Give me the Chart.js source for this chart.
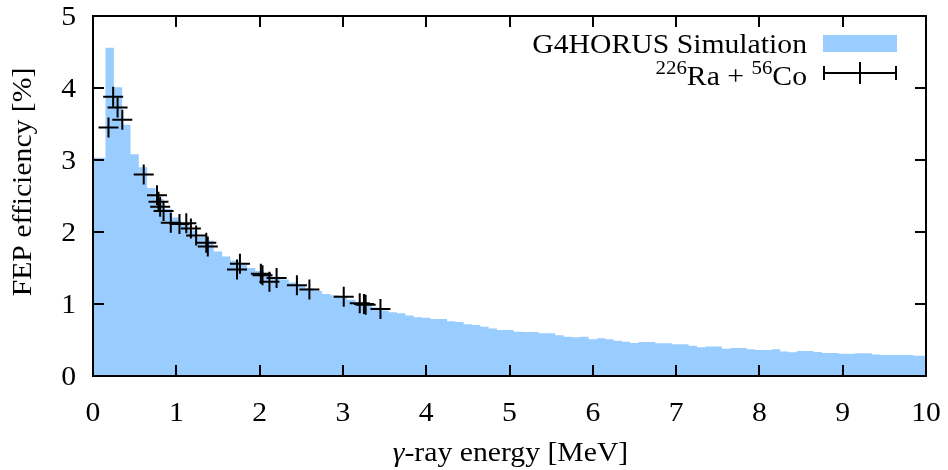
<!DOCTYPE html>
<html>
<head>
<meta charset="utf-8">
<script src="https://cdn.jsdelivr.net/npm/chart.js@4/dist/chart.umd.min.js"></script>
<style>
html,body{margin:0;padding:0;background:#fff;}
#wrap{width:948px;height:470px;position:relative;}
</style>
</head>
<body>
<div id="wrap"><canvas id="c" width="948" height="470"></canvas></div>
<script>
// ---- Data ----
const binWidth = 0.1; // MeV, simulation histogram bin width
// simulated FEP efficiency [%] per bin, bins centred at 0.0, 0.1, ... 10.0 MeV
const simEfficiency = [
  3.03, 3.03, 4.56, 4.01, 3.49, 3.08, 2.90, 2.61, 2.46, 2.32,
  2.20, 2.12, 2.02, 1.93, 1.88, 1.73, 1.66, 1.60, 1.55, 1.50,
  1.46, 1.42, 1.38, 1.34, 1.30, 1.26, 1.22, 1.18, 1.14, 1.12,
  1.10, 1.06, 1.02, 0.99, 0.95, 0.91, 0.885, 0.87, 0.84, 0.815,
  0.81, 0.79, 0.79, 0.76, 0.75, 0.72, 0.71, 0.685, 0.66, 0.64,
  0.64, 0.615, 0.61, 0.61, 0.593, 0.593, 0.565, 0.546, 0.537, 0.546,
  0.51, 0.523, 0.51, 0.49, 0.476, 0.46, 0.472, 0.472, 0.454, 0.454,
  0.44, 0.44, 0.42, 0.40, 0.41, 0.41, 0.38, 0.39, 0.39, 0.37,
  0.36, 0.36, 0.37, 0.34, 0.33, 0.347, 0.347, 0.333, 0.32, 0.32,
  0.31, 0.31, 0.315, 0.315, 0.30, 0.29, 0.29, 0.29, 0.29, 0.28,
  0.28
];
// measured 226Ra + 56Co points
const measEnergy = [0.186, 0.242, 0.295, 0.352, 0.609, 0.768, 0.786, 0.806, 0.847, 0.934,
  1.038, 1.120, 1.175, 1.238, 1.360, 1.378, 1.729, 1.764, 2.015, 2.035,
  2.118, 2.204, 2.448, 2.598, 3.010, 3.202, 3.253, 3.273, 3.451];
const measEfficiency = [3.45, 3.88, 3.73, 3.56, 2.80, 2.51, 2.42, 2.35, 2.29, 2.13,
  2.11, 2.12, 2.05, 1.95, 1.85, 1.80, 1.48, 1.56, 1.42, 1.40,
  1.31, 1.36, 1.26, 1.20, 1.10, 1.01, 1.00, 0.99, 0.93];
const xTicks = [0,1,2,3,4,5,6,7,8,9,10];
const yTicks = [0,1,2,3,4,5];
const xTitle = ['\u03B3', '-ray energy [MeV]'];
const yTitle = 'FEP efficiency [%]';
const legendSim = 'G4HORUS Simulation';

// ---- Style ----
const FONT = '"Liberation Serif", "Times New Roman", serif';
const FS = 27;
const SX = 1.1; // horizontal stretch of text
const BLUE = '#99ccff';

const simPoints = simEfficiency.map((v, i) => ({x: i * binWidth, y: v}));
const measPoints = measEnergy.map((e, i) => ({x: e, y: measEfficiency[i]}));

function txt(ctx, s, x, y, align, size, italic) {
  ctx.save();
  ctx.font = (italic ? 'italic ' : '') + size + 'px ' + FONT;
  const w = ctx.measureText(s).width * SX;
  let x0 = x;
  if (align === 'center') x0 = x - w / 2;
  else if (align === 'right') x0 = x - w;
  ctx.translate(x0, y);
  ctx.scale(SX, 1);
  ctx.textAlign = 'left';
  ctx.textBaseline = 'alphabetic';
  ctx.fillStyle = '#000';
  ctx.fillText(s, 0, 0);
  ctx.restore();
  return w;
}
function txtW(ctx, s, size, italic) {
  ctx.save();
  ctx.font = (italic ? 'italic ' : '') + size + 'px ' + FONT;
  const w = ctx.measureText(s).width * SX;
  ctx.restore();
  return w;
}

const framePlugin = {
  id: 'frame',
  afterDraw(chart) {
    const ctx = chart.ctx;
    const a = chart.chartArea;
    const xs = chart.scales.x, ys = chart.scales.y;
    ctx.save();
    ctx.strokeStyle = '#000';
    ctx.lineWidth = 2;
    ctx.lineCap = 'butt';
    const TL = 11;
    ctx.beginPath();
    xTicks.forEach(t => {
      const px = Math.round(xs.getPixelForValue(t));
      if (t !== xTicks[0] && t !== xTicks[xTicks.length - 1]) {
        ctx.moveTo(px, a.bottom); ctx.lineTo(px, a.bottom - TL);
        ctx.moveTo(px, a.top); ctx.lineTo(px, a.top + TL);
      }
    });
    yTicks.forEach(t => {
      const py = Math.round(ys.getPixelForValue(t));
      if (t !== yTicks[0] && t !== yTicks[yTicks.length - 1]) {
        ctx.moveTo(a.left, py); ctx.lineTo(a.left + TL, py);
        ctx.moveTo(a.right, py); ctx.lineTo(a.right - TL, py);
      }
    });
    ctx.stroke();
    ctx.strokeRect(a.left, a.top, a.right - a.left, a.bottom - a.top);
    ctx.restore();

    // tick labels
    xTicks.forEach(t => txt(ctx, String(t), xs.getPixelForValue(t), a.bottom + 45, 'center', FS));
    yTicks.forEach(t => txt(ctx, String(t), 76, ys.getPixelForValue(t) + 9, 'right', FS));

    // x title
    const w1 = txtW(ctx, xTitle[0], FS, true), w2 = txtW(ctx, xTitle[1], FS, false);
    const cx = (a.left + a.right) / 2 + 1;
    const start = cx - (w1 + w2) / 2;
    txt(ctx, xTitle[0], start, 461, 'left', FS, true);
    txt(ctx, xTitle[1], start + w1, 461, 'left', FS, false);

    // y title
    ctx.save();
    ctx.translate(31, 182);
    ctx.rotate(-Math.PI / 2);
    txt(ctx, yTitle, 0, 0, 'center', FS);
    ctx.restore();

    // legend
    const lx = 807;
    txt(ctx, legendSim, lx, 53, 'right', FS);
    ctx.save();
    ctx.fillStyle = BLUE;
    ctx.fillRect(823, 35, 74, 17);
    ctx.restore();
    const SUP = 19;
    const parts = [['226', true], ['Ra + ', false], ['56', true], ['Co', false]];
    let total = 0;
    parts.forEach(p => total += txtW(ctx, p[0], p[1] ? SUP : FS));
    let px = lx - total;
    parts.forEach(p => {
      const sz = p[1] ? SUP : FS;
      txt(ctx, p[0], px, p[1] ? 74 : 85, 'left', sz);
      px += txtW(ctx, p[0], sz);
    });
    ctx.save();
    ctx.strokeStyle = '#000';
    ctx.lineWidth = 2;
    ctx.beginPath();
    ctx.moveTo(824, 73); ctx.lineTo(896, 73);
    ctx.moveTo(824, 66); ctx.lineTo(824, 80);
    ctx.moveTo(896, 66); ctx.lineTo(896, 80);
    ctx.moveTo(860, 62); ctx.lineTo(860, 84);
    ctx.stroke();
    ctx.restore();
  }
};

new Chart(document.getElementById('c'), {
  type: 'line',
  data: {
    datasets: [
      {
        label: '226Ra + 56Co',
        data: measPoints,
        showLine: false,
        pointStyle: 'cross',
        pointRadius: 10,
        pointBorderWidth: 2,
        borderColor: '#000',
        backgroundColor: '#000',
        order: 0
      },
      {
        label: legendSim,
        data: simPoints,
        stepped: 'middle',
        fill: 'origin',
        borderWidth: 0,
        borderColor: 'rgba(0,0,0,0)',
        backgroundColor: BLUE,
        pointRadius: 0,
        order: 1
      }
    ]
  },
  options: {
    responsive: false,
    animation: false,
    devicePixelRatio: 1,
    layout: {padding: {left: 93, right: 22, top: 16, bottom: 94}},
    plugins: {legend: {display: false}, tooltip: {enabled: false}},
    scales: {
      x: {type: 'linear', min: 0, max: 10, display: false},
      y: {type: 'linear', min: 0, max: 5, display: false}
    }
  },
  plugins: [framePlugin]
});
</script>
</body>
</html>
